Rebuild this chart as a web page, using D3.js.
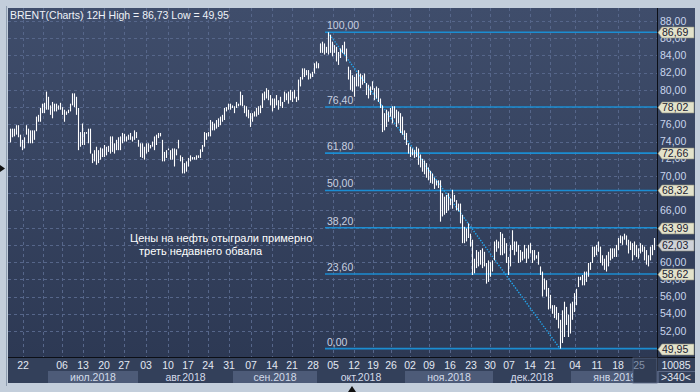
<!DOCTYPE html>
<html>
<head>
<meta charset="utf-8">
<script src="https://cdn.jsdelivr.net/npm/d3@7"></script>
<style>
body { margin: 0; background: #c3cedb; }
svg { display: block; font-family: "Liberation Sans", Arial, sans-serif; }
</style>
</head>
<body>
<div id="chart"></div>
<script>
// ---- données (barres 12H, une valeur par barre) ----
const highs = [
	75.5,75.5,75.5,75.9,75.9,74.8,74.2,74.5,75.9,75.5,
	75.3,75.3,75.3,76.9,77.1,77.9,78.4,78.5,79.8,79.2,
	78.2,78.6,78.4,78.4,78.2,78.5,78.0,77.7,77.5,77.7,
	78.4,79.6,79.6,79.2,77.9,75.1,76.1,75.1,75.1,75.5,
	75.5,72.6,73.0,73.4,73.0,73.3,73.2,73.6,73.4,73.5,
	74.6,74.6,73.8,74.2,74.5,74.6,75.0,74.9,74.6,74.8,
	75.0,74.6,75.3,75.1,74.2,73.8,73.8,73.4,73.8,73.8,
	73.6,74.0,74.6,74.8,75.0,75.0,74.2,72.8,73.0,73.2,
	73.0,73.2,73.2,73.1,74.2,72.4,72.2,71.5,71.7,72.1,
	72.4,72.2,72.2,72.4,72.4,73.1,73.6,75.1,75.0,75.1,
	76.5,76.3,76.1,76.5,76.7,76.9,77.1,77.9,78.0,78.4,
	78.4,78.2,78.1,78.6,78.4,79.8,79.4,78.2,78.1,77.7,
	77.3,77.3,77.5,77.9,78.1,78.2,79.6,79.8,80.2,80.0,
	79.4,79.0,79.0,79.4,78.8,79.2,78.6,79.8,79.6,79.8,
	80.0,79.8,80.0,79.2,81.2,81.5,82.5,82.5,82.3,82.3,
	81.9,82.1,83.1,83.3,83.1,85.4,85.6,85.4,85.0,86.69,
	86.4,85.6,85.2,85.0,84.4,84.8,85.2,85.6,84.8,82.7,
	82.3,81.7,81.5,81.9,82.3,81.9,81.7,81.9,80.8,80.6,
	80.4,81.0,80.2,80.4,80.2,79.0,78.2,77.3,77.7,77.5,
	77.9,78.1,78.1,77.7,77.5,77.3,76.9,75.3,75.0,73.8,
	73.4,73.2,73.0,73.4,73.2,72.5,72.0,71.8,71.5,71.0,
	70.6,70.3,69.8,69.5,69.5,69.5,68.0,67.6,67.8,68.0,
	67.4,68.4,67.8,67.2,66.8,66.8,65.5,64.1,63.9,64.5,
	63.3,62.6,60.4,61.4,61.2,61.4,61.6,61.2,59.9,60.2,
	60.0,60.2,62.4,62.6,62.4,63.5,63.3,62.8,62.2,60.6,
	62.0,63.7,62.4,62.4,62.0,61.4,61.2,62.0,61.6,62.0,
	62.2,61.4,61.4,60.8,61.2,59.5,58.9,58.1,57.9,57.0,
	56.2,55.0,55.0,54.8,54.1,53.3,54.4,55.4,54.8,53.9,
	55.2,55.4,56.4,56.9,58.3,58.3,58.5,58.9,58.9,59.9,
	60.0,61.8,61.8,62.0,62.4,61.8,60.8,60.4,60.8,61.2,
	61.6,61.6,61.6,62.0,62.8,63.1,63.0,63.3,63.1,62.6,
	62.4,62.2,62.4,62.0,61.6,62.2,62.0,61.8,61.4,60.8,
	61.8,62.0,62.8
];
const lows = [
	73.9,74.5,74.6,74.8,74.5,73.4,73.0,73.2,74.8,73.8,
	73.8,73.8,74.2,75.2,76.3,76.3,77.3,77.3,77.7,77.7,
	77.1,76.7,77.5,77.5,77.7,77.7,77.1,76.3,77.1,77.3,
	77.5,78.2,78.0,77.1,73.0,73.4,73.6,73.6,74.9,73.8,
	72.6,71.5,71.7,71.3,71.5,71.9,72.2,72.2,72.4,72.8,
	72.6,72.8,72.6,73.0,73.0,73.0,73.8,74.0,74.0,74.2,
	74.2,74.0,74.2,74.4,73.4,72.2,72.1,71.9,72.6,72.8,
	73.2,73.4,73.0,73.6,74.4,74.6,71.7,71.7,72.1,73.0,
	71.9,71.9,71.1,72.4,73.2,71.7,70.3,70.3,70.5,71.1,
	71.7,71.9,71.9,71.9,72.1,72.1,72.8,73.4,74.2,74.6,
	74.6,75.3,75.3,75.5,75.7,75.9,76.3,76.5,77.5,77.7,
	77.7,77.9,77.3,77.9,78.1,78.2,78.1,77.3,76.9,76.7,
	75.7,76.3,76.9,76.9,77.1,77.3,77.9,78.8,79.0,78.8,
	78.2,77.5,77.9,78.2,77.7,78.1,77.9,78.6,78.8,78.4,
	78.8,78.6,79.0,78.6,78.8,80.4,81.2,81.5,81.7,81.2,
	81.3,81.5,81.9,82.5,82.5,84.3,84.3,84.1,84.3,84.1,
	84.3,83.9,84.3,83.3,82.9,83.7,84.3,84.1,83.3,81.2,
	80.0,79.8,79.2,80.4,80.4,80.2,80.6,80.8,79.4,79.0,
	79.4,80.0,78.8,79.0,78.6,77.9,75.1,75.3,75.7,76.3,
	76.9,76.1,76.7,75.7,76.1,75.0,74.8,74.2,73.6,72.6,
	72.2,72.4,72.1,72.2,71.3,71.0,70.5,70.2,69.8,69.5,
	69.2,69.1,68.5,68.9,68.6,64.7,65.3,65.5,65.7,66.0,
	66.6,66.2,67.0,66.0,65.9,64.5,62.2,62.2,62.4,62.8,
	61.8,58.5,58.7,59.3,59.5,59.7,59.3,59.5,57.5,57.7,
	58.3,58.9,60.2,61.2,61.6,60.8,60.8,61.0,59.9,58.5,
	59.5,61.4,60.8,61.2,59.9,60.0,60.2,60.4,59.9,60.4,
	61.0,59.9,60.2,60.4,59.7,58.5,56.0,56.8,56.0,54.5,
	54.6,54.0,53.5,53.3,52.3,49.95,50.6,51.3,52.7,51.3,
	51.7,53.3,54.2,55.0,57.1,57.9,57.3,57.3,57.7,58.3,
	59.1,59.9,60.6,60.8,61.2,59.9,59.6,59.1,58.9,59.5,
	60.2,60.4,60.6,60.6,61.4,62.2,62.0,62.6,62.0,61.0,
	61.4,60.2,60.8,60.6,60.4,61.0,61.2,60.2,59.7,59.5,
	60.2,60.8,61.4
];

// niveaux de Fibonacci
const fibLabels = ["100,00","76,40","61,80","50,00","38,20","23,60","0,00"];
const fibPrices = [86.69, 78.02, 72.66, 68.32, 63.99, 58.62, 49.95];
const peakBar = 159, lowBar = 275;
const lastPrice = 62.03;

// axe des prix
const priceTicks = [52,54,56,58,60,62,64,66,68,70,72,74,76,78,80,82,84,86,88];

// axe du temps (position en barres)
const dayLabels = ["22","","06","13","20","27","03","10","17","24","31","07","14","21","28",
	"05","12","19","26","02","09","16","23","30","07","14","21","04","11","18","25"];
const dayBars = [6.5,16.5,26,36.5,47,57,68,79,89,99,109.5,120.5,131,141,151.5,
	161.5,172,181.5,190.5,200,209.5,220,230.5,240,249.5,260,270,282.5,293.5,304,314.5];
const monthLabels = ["июл.2018","авг.2018","сен.2018","окт.2018","ноя.2018","дек.2018","янв.2019"];
const monthStart = [19, 64, 111.5, 153.5, 197.5, 241.5, 280.5];
const monthEnd   = [64, 111.5, 153.5, 197.5, 241.5, 280.5, 324.5];

const title = "BRENT(Charts) 12H High = 86,73 Low = 49,95";
const note = ["Цены на нефть отыграли примерно", "треть недавнего обвала"];
const counters = ["10085", ">340<"];

/***************************************************************************/

const W = 700, H = 392;
const pLeft = 8, pTop = 8, plotRight = 657, axisRight = 695, plotBottom = 357, stripBottom = 383;

const x = d3.scaleLinear().domain([0, highs.length - 1]).range([10, 654]);
const y = d3.scaleLinear().domain([48.98, 89.51]).range([plotBottom, pTop]);

const svg = d3.select("#chart").append("svg")
	.attr("width", W)
	.attr("height", H);

const defs = svg.append("defs");
const grad = defs.append("linearGradient").attr("id", "bg").attr("x1", 0).attr("y1", 0).attr("x2", 0).attr("y2", 1);
grad.append("stop").attr("offset", "0%").attr("stop-color", "#3f4d6b");
grad.append("stop").attr("offset", "100%").attr("stop-color", "#2d3954");
defs.append("clipPath").attr("id", "plotclip")
	.append("rect").attr("x", pLeft).attr("y", pTop).attr("width", plotRight - pLeft).attr("height", plotBottom - pTop);

// fond
svg.append("rect").attr("width", W).attr("height", H).attr("fill", "#c3cedb");
svg.append("line").attr("x1", 6.5).attr("x2", 6.5).attr("y1", 6).attr("y2", 386).attr("stroke", "#8e9db0");
svg.append("rect").attr("x", pLeft).attr("y", pTop).attr("width", axisRight - pLeft).attr("height", plotBottom - pTop)
	.attr("fill", "url(#bg)");
svg.append("rect").attr("x", pLeft).attr("y", plotBottom).attr("width", axisRight - pLeft).attr("height", stripBottom - plotBottom)
	.attr("fill", "#33405a");

// grille
const grid = svg.append("g").attr("clip-path", "url(#plotclip)")
	.attr("stroke", "#56668a").attr("stroke-width", 1).attr("stroke-dasharray", "3,3");
grid.selectAll("line.h").data(priceTicks).enter().append("line")
	.attr("x1", pLeft).attr("x2", plotRight)
	.attr("y1", d => Math.round(y(d)) + 0.5).attr("y2", d => Math.round(y(d)) + 0.5);
grid.selectAll("line.v").data(dayBars).enter().append("line")
	.attr("x1", d => Math.round(x(d)) + 0.5).attr("x2", d => Math.round(x(d)) + 0.5)
	.attr("y1", pTop).attr("y2", plotBottom);

// niveaux de Fibonacci
const fibStart = x(peakBar) - 3;
const fib = svg.append("g");
fib.selectAll("line").data(fibPrices).enter().append("line")
	.attr("x1", fibStart).attr("x2", plotRight)
	.attr("y1", d => y(d)).attr("y2", d => y(d))
	.attr("stroke", "#1b8dd2").attr("stroke-width", 1.6);
fib.selectAll("text").data(fibLabels).enter().append("text")
	.attr("x", fibStart + 2)
	.attr("y", (d, i) => y(fibPrices[i]) - 3)
	.attr("fill", "#c8d0e0")
	.style("font-size", "10.5px")
	.text(d => d);

// ligne de tendance pointillée
svg.append("line")
	.attr("x1", x(peakBar)).attr("y1", y(fibPrices[0]))
	.attr("x2", x(lowBar)).attr("y2", y(fibPrices[6]))
	.attr("stroke", "#22a6ee").attr("stroke-width", 1.4).attr("stroke-dasharray", "1.4,1.4");

// barres
const bars = svg.append("g");
bars.selectAll("line").data(highs).enter().append("line")
	.attr("x1", (d, i) => Math.round(x(i)) + 0.5)
	.attr("x2", (d, i) => Math.round(x(i)) + 0.5)
	.attr("y1", d => y(d))
	.attr("y2", (d, i) => Math.max(y(lows[i]), y(d) + 1.5))
	.attr("stroke", "#ffffff").attr("stroke-width", 1.1);

// titre et commentaire
svg.append("text").attr("x", 10).attr("y", 19)
	.attr("fill", "#eef2f8").style("font-size", "10.5px").text(title);
svg.append("text").attr("x", 130).attr("y", 242)
	.attr("fill", "#ffffff").style("font-size", "11px").text(note[0]);
svg.append("text").attr("x", 139).attr("y", 255)
	.attr("fill", "#ffffff").style("font-size", "11px").text(note[1]);

// séparateurs
svg.append("line").attr("x1", plotRight + 0.5).attr("x2", plotRight + 0.5).attr("y1", pTop).attr("y2", stripBottom)
	.attr("stroke", "#0c0f16");
svg.append("line").attr("x1", pLeft).attr("x2", axisRight).attr("y1", plotBottom + 0.5).attr("y2", plotBottom + 0.5)
	.attr("stroke", "#0c0f16");

// axe des prix (les graduations entièrement masquées par une étiquette ne sont pas écrites)
const fmt = v => v.toFixed(2).replace(".", ",");
const tagPrices = fibPrices.concat([lastPrice]);
const visibleTicks = priceTicks.filter(t => tagPrices.every(p => Math.abs(y(p) - y(t)) > 4));
svg.append("g").selectAll("text").data(visibleTicks).enter().append("text")
	.attr("x", 660).attr("y", d => y(d)).attr("dy", "0.35em")
	.attr("fill", "#c9d5ec").style("font-size", "10.5px")
	.text(fmt);

// étiquettes de prix
function tag(g, v, fill) {
	const yy = Math.round(y(v)) + 0.5;
	g.append("path")
		.attr("d", `M${plotRight + 1},${yy} L${plotRight + 5},${yy - 5.5} L${axisRight - 1},${yy - 5.5} L${axisRight - 1},${yy + 5.5} L${plotRight + 5},${yy + 5.5} Z`)
		.attr("fill", fill).attr("stroke", "#8d8d7c").attr("stroke-width", 0.6);
	g.append("text").attr("x", plotRight + 5).attr("y", yy).attr("dy", "0.35em")
		.attr("fill", "#1b2030").style("font-size", "10.5px").text(fmt(v));
}
const tags = svg.append("g");
fibPrices.forEach(v => tag(tags, v, "#e3e3cb"));
tag(tags, lastPrice, "#cfd2d8");

// bande des mois
const months = svg.append("g");
months.selectAll("rect").data(monthLabels.filter((d, i) => i % 2 === 0)).enter().append("rect")
	.attr("x", (d, i) => x(monthStart[i * 2]))
	.attr("width", (d, i) => x(monthEnd[i * 2]) - x(monthStart[i * 2]))
	.attr("y", 371).attr("height", 12)
	.attr("fill", "#4d5b78");
months.selectAll("text").data(monthLabels).enter().append("text")
	.attr("x", (d, i) => (x(monthStart[i]) + x(monthEnd[i])) / 2)
	.attr("y", 381)
	.attr("text-anchor", "middle")
	.attr("fill", "#d3dbea").style("font-size", "10.5px")
	.text(d => d);

// case de la période en cours
const cur = x(dayBars[dayBars.length - 1]) - 6;
svg.append("rect")
	.attr("x", cur).attr("y", plotBottom + 1).attr("width", plotRight - cur).attr("height", stripBottom - plotBottom - 1)
	.attr("fill", "#303c54").attr("stroke", "#5a6784").attr("stroke-width", 0.8);

// jours
svg.append("g").selectAll("text").data(dayLabels).enter().append("text")
	.attr("x", (d, i) => x(dayBars[i]))
	.attr("y", 369)
	.attr("text-anchor", "middle")
	.attr("fill", (d, i) => i === dayLabels.length - 1 ? "#8391a8" : "#e2e8f2")
	.style("font-size", "10.5px")
	.text(d => d);

// compteurs en bas à droite
svg.append("line").attr("x1", plotRight + 1).attr("x2", axisRight).attr("y1", 371.5).attr("y2", 371.5).attr("stroke", "#5d6a86");
svg.selectAll("text.cnt").data(counters).enter().append("text")
	.attr("x", 676).attr("y", (d, i) => 369 + i * 12)
	.attr("text-anchor", "middle")
	.attr("fill", "#e2e8f2").style("font-size", "10.5px")
	.text(d => d);

// petits repères noirs
svg.append("path").attr("d", "M0,165 L5,168.5 L0,172 Z").attr("fill", "#111");
svg.append("path").attr("d", "M348,392 L352,386 L356,392 Z").attr("fill", "#111");
</script>
</body>
</html>
